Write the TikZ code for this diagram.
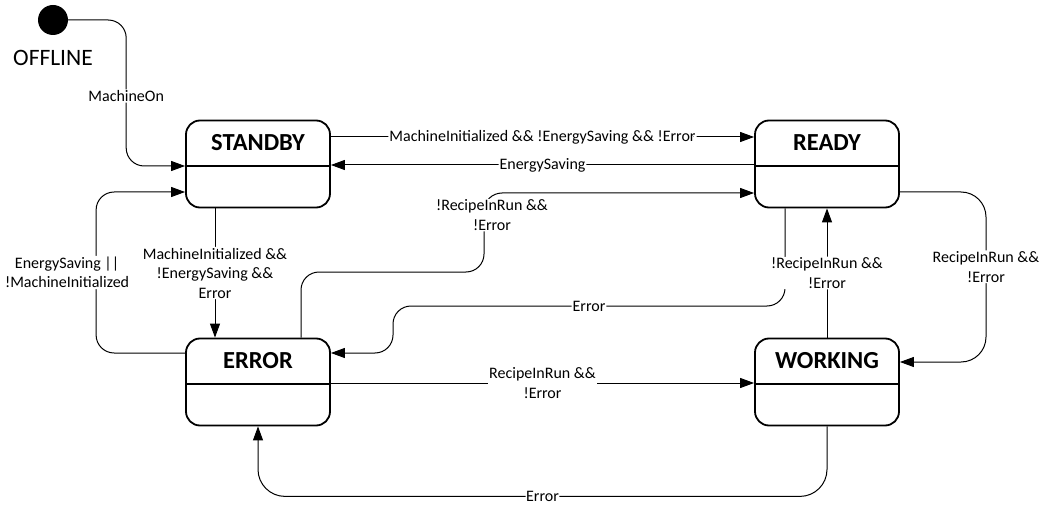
\documentclass[tikz,border=0pt]{standalone}
\usepackage{fontspec}
\setmainfont{Carlito}
\usetikzlibrary{arrows.meta}

\tikzset{
  statebox/.style={draw, line width=1.8pt, rounded corners=14pt, minimum width=144pt, minimum height=87pt, inner sep=0pt},
  titletext/.style={font=\fontsize{24.5}{27}\selectfont\bfseries},
  conn/.style={line width=1pt, rounded corners=18pt, -{Triangle[length=14pt,width=10pt]}},
  lbl/.style={fill=white, inner sep=1pt, align=center, font=\fontsize{16}{19.5}\selectfont},
}

\begin{document}
\begin{tikzpicture}[x=1pt,y=1pt]
    \useasboundingbox (0,0) rectangle (1046,504);
    \node[circle, fill, minimum size=30pt, inner sep=0pt] (init) at (53,484) {};
    \node[font=\fontsize{23.5}{26}\selectfont] (offline) at (53,446) {OFFLINE};
    \foreach \n/\t/\x/\y in {standby/STANDBY/258/340, ready/READY/827/340, error/ERROR/258/122, working/WORKING/827/122} {
        \node[statebox] (\n) at (\x,\y) {};
        \node[titletext] (\n-title) at ([yshift=21pt]\n.center) {\t};
        \draw[line width=1.8pt] ([yshift=-2pt]\n.west) -- ([yshift=-2pt]\n.east);
    }
    \draw[conn] (init.east) -- ++(58,0) |- ([yshift=-2pt]standby.west) node[lbl, pos=.26] {MachineOn};
    \draw[conn] ([yshift=27pt]standby.east) -- ([yshift=27pt]ready.west) node[lbl, pos=.5] {MachineInitialized \&\& !EnergySaving \&\& !Error};
    \draw[conn] ([yshift=-1pt]ready.west) -- ([yshift=-1pt]standby.east) node[lbl, pos=.5] {EnergySaving};
    \draw[conn] ([xshift=-43pt]standby.south) -- ([xshift=-43pt]error.north) node[lbl, pos=.5] {MachineInitialized \&\&\\!EnergySaving \&\&\\Error};
    \draw[conn] ([yshift=29pt]error.west) -- ++(-89,0) |- ([yshift=-28pt]standby.west) node[lbl, pos=.25, xshift=-29pt] {EnergySaving ||\\!MachineInitialized};
    \draw[conn] ([xshift=43pt]error.north) |- (484,232) |- ([yshift=-29pt]ready.west) node[lbl, pos=.36, xshift=8pt] {!RecipeInRun \&\&\\!Error};
    \draw[conn] ([xshift=-42pt]ready.south) |- (393,198) node[lbl, pos=.75] {Error} |- ([yshift=29pt]error.east);
    \draw[conn] (working.north) -- (ready.south) node[lbl, pos=.5] {!RecipeInRun \&\&\\!Error};
    \draw[conn, rounded corners=25pt] ([yshift=-28pt]ready.east) -- (986,312) |- ([yshift=20pt]working.east) node[lbl, pos=.22] {RecipeInRun \&\&\\!Error};
    \draw[conn] ([yshift=-1pt]error.east) -- ([yshift=-1pt]working.west) node[lbl, pos=.5] {RecipeInRun \&\&\\!Error};
    \draw[conn, rounded corners=27pt] (working.south) -- ++(0,-70) -| (error.south) node[lbl, pos=.25, inner sep=0.5pt] {Error};
\end{tikzpicture}
\end{document}
